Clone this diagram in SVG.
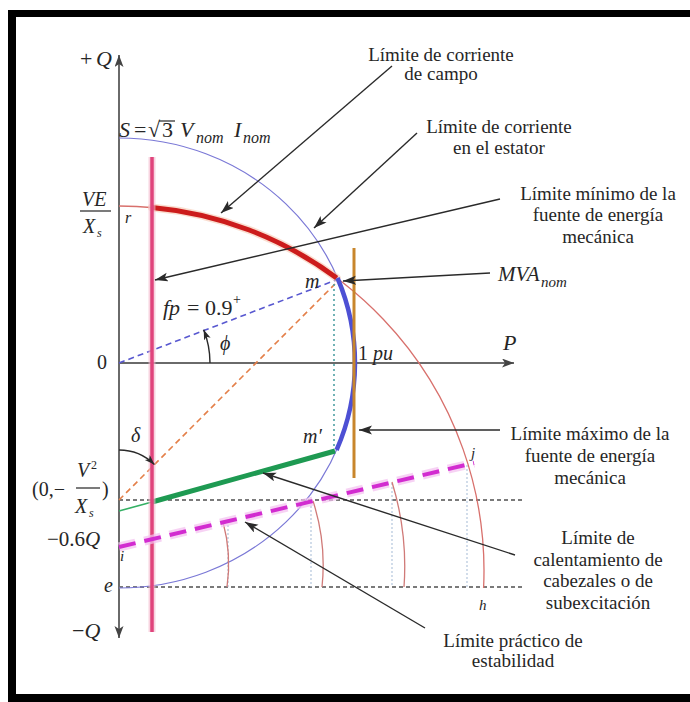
<svg xmlns="http://www.w3.org/2000/svg" width="690" height="702" viewBox="0 0 690 702">
<defs>
<style>
.t{font-family:"Liberation Serif","Times New Roman","DejaVu Serif",serif;fill:#262626;font-size:19px;text-anchor:middle}
.m{font-family:"Liberation Serif","Times New Roman","DejaVu Serif",serif;fill:#262626;font-size:21px}
.it{font-style:italic}
.lead{stroke:#2a2a2a;stroke-width:1.4;fill:none;marker-end:url(#ah)}
.axis{stroke:#6a6a6a;stroke-width:2;fill:none;marker-end:url(#axh)}
.grid{stroke:#7a7a7a;stroke-width:1.8;stroke-dasharray:4 3;fill:none}
.faint{stroke:#b4c6dc;stroke-width:1.2;stroke-dasharray:2 2;fill:none}
.stab{stroke:#d07a78;stroke-width:1.3;fill:none}
</style>
<marker id="ah" markerWidth="14" markerHeight="10" refX="13" refY="4.5" orient="auto" markerUnits="userSpaceOnUse"><path d="M0,0 L13,4.5 L0,9 L3,4.5 z" fill="#2a2a2a"/></marker>
<marker id="axh" markerWidth="14" markerHeight="10" refX="12" refY="4.5" orient="auto" markerUnits="userSpaceOnUse"><path d="M0,0 L12,4.5 L0,9 L3,4.5 z" fill="#444"/></marker>
<marker id="sh" markerWidth="12" markerHeight="8" refX="10" refY="3.5" orient="auto" markerUnits="userSpaceOnUse"><path d="M0,0 L10,3.5 L0,7 L2.5,3.5 z" fill="#2a2a2a"/></marker>
</defs>
<rect width="690" height="702" fill="#ffffff"/>
<g id="frame" fill="#000">
<rect x="8" y="10" width="682" height="7"/>
<rect x="8" y="10" width="8" height="692"/>
<rect x="8" y="694" width="682" height="8"/>
</g>
<g id="guides">
<line class="grid" x1="119" y1="500" x2="523" y2="500"/>
<line class="grid" x1="119" y1="587" x2="523" y2="587"/>
<line class="faint" x1="228" y1="521" x2="228" y2="587"/>
<line class="faint" x1="311" y1="502" x2="311" y2="587"/>
<line class="faint" x1="392" y1="483" x2="392" y2="587"/>
<line class="faint" x1="467" y1="465" x2="467" y2="587"/>
</g>
<g id="axes">
<line class="axis" x1="119" y1="363" x2="119" y2="55"/>
<line class="axis" x1="119" y1="363" x2="119" y2="638"/>
<line class="axis" x1="119" y1="363" x2="514" y2="363"/>
</g>
<g id="curves">
<path id="stator-circle" d="M119,138 A236,225 0 0 1 119,588" fill="none" stroke="#7a78d6" stroke-width="1.2"/>
<path id="field-circle" d="M119,206 A365,365 0 0 1 483.6,588" fill="none" stroke="#d8706c" stroke-width="1.3"/>
<path class="stab" d="M223,522 A160,160 0 0 1 227,587"/>
<path class="stab" d="M313,501 A207,207 0 0 1 322,587"/>
<path class="stab" d="M392,482 A287,287 0 0 1 404,587"/>
<line x1="119" y1="363" x2="336" y2="280" stroke="#5858d0" stroke-width="1.6" stroke-dasharray="6 4"/>
<line x1="119" y1="500" x2="335" y2="284" stroke="#e4804a" stroke-width="1.6" stroke-dasharray="6 4"/>
<line x1="334" y1="284" x2="334" y2="448" stroke="#4fa0a4" stroke-width="1.6" stroke-dasharray="2 3"/>
<path d="M152,207.5 A365,365 0 0 1 336.7,278" fill="none" stroke="#f6c8b0" stroke-width="8" stroke-linecap="round" opacity="0.6"/>
<path id="field-limit" d="M152,207.5 A365,365 0 0 1 336.7,278" fill="none" stroke="#cc1c1c" stroke-width="5"/>
<path id="stator-limit" d="M337.5,278 A236,225 0 0 1 336.6,450" fill="none" stroke="#4d50d4" stroke-width="4.5"/>
<line x1="354" y1="248" x2="354" y2="478" stroke="#c8862c" stroke-width="3"/>
<line x1="119" y1="511" x2="152" y2="502" stroke="#34b064" stroke-width="1.6"/>
<line id="underexc-limit" x1="152" y1="502" x2="335" y2="451" stroke="#1e9a52" stroke-width="5"/>
<line x1="152" y1="157" x2="152" y2="632" stroke="#f4b8cc" stroke-width="7" opacity="0.6"/>
<line id="min-mech" x1="152" y1="157" x2="152" y2="632" stroke="#e0447c" stroke-width="3.5"/>
<line x1="119" y1="547" x2="474" y2="463" stroke="#f4c0f0" stroke-width="9" stroke-dasharray="17 9" opacity="0.7"/>
<line id="stability-limit" x1="119" y1="547" x2="474" y2="463" stroke="#d22cd0" stroke-width="4" stroke-dasharray="17 9"/>
<path d="M210,363 A91,91 0 0 0 203.7,329.8" fill="none" stroke="#2a2a2a" stroke-width="1.4" marker-end="url(#sh)"/>
<path d="M119,450 A50,50 0 0 1 154.4,464.6" fill="none" stroke="#2a2a2a" stroke-width="1.4" marker-end="url(#sh)"/>
<line x1="80" y1="211" x2="111" y2="211" stroke="#333" stroke-width="1.3"/>
<line x1="76" y1="488" x2="100" y2="488" stroke="#333" stroke-width="1.3"/>
<line x1="159" y1="121" x2="175" y2="121" stroke="#262626" stroke-width="1.2"/>
</g>
<g id="connectors">
<line class="lead" x1="392" y1="66" x2="221" y2="213"/>
<line class="lead" x1="417" y1="133" x2="314" y2="228"/>
<line class="lead" x1="500" y1="199" x2="155" y2="280"/>
<line class="lead" x1="490" y1="273" x2="343" y2="281"/>
<line class="lead" x1="500" y1="430" x2="359" y2="430"/>
<line class="lead" x1="515" y1="555" x2="263" y2="473"/>
<line class="lead" x1="425" y1="628" x2="245" y2="522"/>
</g>
<g id="n-campo"><text class="t" x="441" y="61">Límite de corriente</text><text class="t" x="441" y="80">de campo</text></g>
<g id="n-estator"><text class="t" x="499" y="133">Límite de corriente</text><text class="t" x="499" y="154">en el estator</text></g>
<g id="n-minimo"><text class="t" x="598" y="200">Límite mínimo de la</text><text class="t" x="598" y="221">fuente de energía</text><text class="t" x="598" y="243">mecánica</text></g>
<g id="n-mva"><text class="m it" x="498" y="281">MVA</text><text class="m it" x="541" y="287" style="font-size:15px">nom</text></g>
<g id="n-maximo"><text class="t" x="590" y="440">Límite máximo de la</text><text class="t" x="590" y="462">fuente de energía</text><text class="t" x="590" y="484">mecánica</text></g>
<g id="n-cabezales"><text class="t" x="598" y="544">Límite de</text><text class="t" x="598" y="566">calentamiento de</text><text class="t" x="598" y="587">cabezales o de</text><text class="t" x="598" y="609">subexcitación</text></g>
<g id="n-practico"><text class="t" x="513" y="647">Límite práctico de</text><text class="t" x="513" y="667">estabilidad</text></g>
<g id="labels">
<text class="m" x="80" y="66" style="font-size:22px">+</text><text class="m it" x="96" y="66" style="font-size:22px">Q</text>
<text class="m it" x="119" y="137" style="font-size:22px">S</text>
<text class="m" x="134" y="137" style="font-size:22px">=</text>
<text class="m" x="148" y="137" style="font-size:22px">√</text>
<text class="m" x="162" y="137" style="font-size:22px">3</text>
<text class="m it" x="180" y="137" style="font-size:22px">V</text>
<text class="m it" x="196" y="143" style="font-size:16px">nom</text>
<text class="m it" x="234" y="137" style="font-size:22px">I</text>
<text class="m it" x="243" y="143" style="font-size:16px">nom</text>
<text class="m it" x="82" y="206" style="font-size:20px">VE</text>
<text class="m it" x="83" y="233" style="font-size:20px">X</text><text class="m it" x="97" y="237" style="font-size:12px">s</text>
<text class="m it" x="125" y="223" style="font-size:16px">r</text>
<text class="m" x="97" y="369" style="font-size:20px">0</text>
<text class="m it" x="163" y="315" style="font-size:22px">fp</text>
<text class="m" x="187" y="315" style="font-size:22px">=</text>
<text class="m" x="205" y="315" style="font-size:22px">0.9</text>
<text class="m" x="233" y="304" style="font-size:14px">+</text>
<text class="m it" x="220" y="350" style="font-size:20px">ϕ</text>
<text class="m it" x="305" y="288" style="font-size:20px">m</text>
<text class="m it" x="303" y="443" style="font-size:20px">m′</text>
<text class="m" x="358" y="360" style="font-size:20px">1 <tspan class="it">pu</tspan></text>
<text class="m it" x="503" y="350" style="font-size:22px">P</text>
<text class="m it" x="131" y="442" style="font-size:20px">δ</text>
<text class="m" x="32" y="496" style="font-size:20px">(0,−</text>
<text class="m it" x="77" y="477" style="font-size:20px">V</text><text class="m" x="91" y="469" style="font-size:12px">2</text>
<text class="m it" x="75" y="513" style="font-size:20px">X</text><text class="m it" x="89" y="517" style="font-size:12px">s</text>
<text class="m" x="102" y="496" style="font-size:20px">)</text>
<text class="m" x="47" y="546" style="font-size:21px">−0.6<tspan class="it">Q</tspan></text>
<text class="m it" x="120" y="561" style="font-size:15px">i</text>
<text class="m it" x="104" y="592" style="font-size:20px">e</text>
<text class="m" x="72" y="638" style="font-size:22px">−<tspan class="it">Q</tspan></text>
<text class="m it" x="471" y="458" style="font-size:15px">j</text>
<text class="m it" x="479" y="610" style="font-size:15px">h</text>
</g>
</svg>
